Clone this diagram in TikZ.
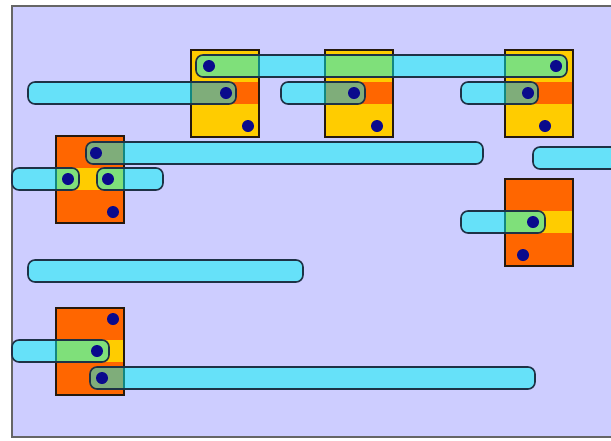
\documentclass[tikz,border=0pt]{standalone}
\usepackage{tikz}
\usepackage{xcolor}
\definecolor{lavender}{RGB}{205,205,255}
\definecolor{wire}{RGB}{0,245,245}
\definecolor{gold}{RGB}{255,204,0}
\definecolor{rust}{RGB}{255,102,0}
\definecolor{pin}{RGB}{10,10,140}
\definecolor{edge}{RGB}{30,50,70}
\tikzset{frame/.style={draw=black!60, line width=1.5pt, fill=lavender},
 band/.style={draw=black!80!brown, line width=1.2pt},
 wirebar/.style={draw=edge, line width=1.6pt, fill=wire, fill opacity=.5, rounded corners=7pt},
 pinhole/.style={fill=pin},
 }

\begin{document}
\begin{tikzpicture}[x=1pt, y=-1pt]
        \useasboundingbox (0, 0) rectangle (611, 440);
        \clip (0, 0) rectangle (611, 440);
        \draw[frame] (12, 6) rectangle (625, 437);
        \foreach \x/\y/\outer/\mid in {191/50/gold/rust, 325/50/gold/rust, 505/50/gold/rust,
            56/136/rust/gold, 505/179/rust/gold, 56/308/rust/gold} {
            \fill[\outer] (\x, \y) rectangle (\x+68, \y+87);
            \fill[\mid] (\x, \y+32) rectangle (\x+68, \y+54);
            \draw[band] (\x, \y) rectangle (\x+68, \y+87);
        }
        \foreach \xa/\ya/\xb in {196/55/567, 28/82/236, 281/82/365, 461/82/538,
            86/142/483, 533/147/625, 12/168/79, 97/168/163, 461/211/545,
            28/260/303, 12/340/109, 90/367/535} {
            \draw[wirebar] (\xa, \ya) rectangle (\xb, \ya+22);
        }
        \foreach \x/\y in {209/66, 226/93, 248/126, 354/93, 377/126, 556/66, 528/93, 545/126,
            96/153, 68/179, 108/179, 113/212, 533/222, 523/255, 113/319, 97/351, 102/378} {
            \fill[pinhole] (\x, \y) circle (6);
        }
    \end{tikzpicture}
\end{document}
